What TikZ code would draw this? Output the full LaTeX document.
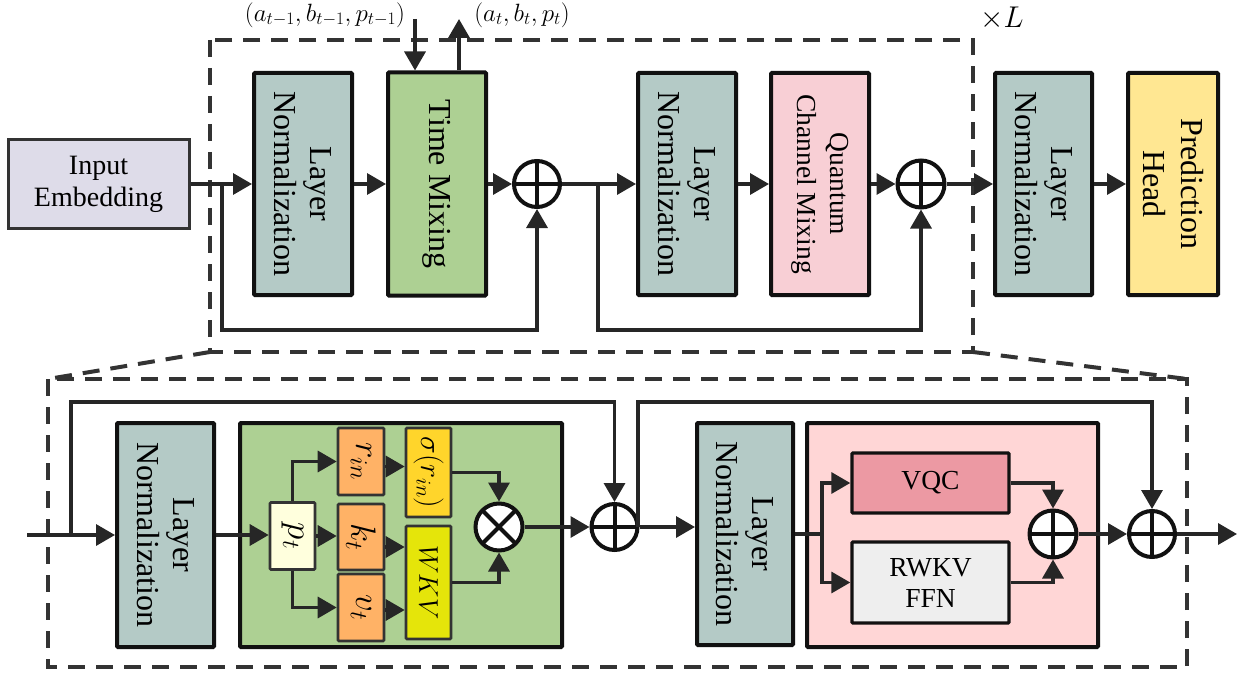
\RequirePackage{fix-cm}
\documentclass[tikz,border=0pt]{standalone}
\usepackage[no-math]{fontspec}
\setmainfont{Liberation Serif}
\usetikzlibrary{arrows.meta,calc}
\definecolor{lncol}{HTML}{B4CAC6}
\definecolor{tmcol}{HTML}{ADD093}
\definecolor{qcol}{HTML}{F8CFD5}
\definecolor{phcol}{HTML}{FFE792}
\definecolor{iecol}{HTML}{DEDCE9}
\definecolor{ptcol}{HTML}{FFFFDD}
\definecolor{orcol}{HTML}{FFB266}
\definecolor{sigcol}{HTML}{FFD52B}
\definecolor{wkvcol}{HTML}{E5E50A}
\definecolor{pinkbg}{HTML}{FFD6D6}
\definecolor{vqccol}{HTML}{EC99A3}
\definecolor{rwkvcol}{HTML}{EEEEEE}
\definecolor{linecol}{HTML}{262626}
\definecolor{dashcol}{HTML}{333333}
\definecolor{bordcol}{HTML}{111111}
\begin{document}
\begin{tikzpicture}[x=1pt,y=-1pt,
  bigbox/.style={draw=bordcol, line width=4pt, inner sep=0pt, rounded corners=1pt},
  lnbox/.style={bigbox, fill=lncol, minimum width=98pt, minimum height=222pt},
  smallbox/.style={draw=dashcol, line width=2.6pt, inner sep=0pt, rounded corners=1pt},
  conn/.style={draw=linecol, line width=3.4pt},
  arr/.style={conn, -{Triangle[length=19pt,width=21pt]}},
  opl/.style={circle, draw=bordcol, line width=4pt, fill=white, minimum size=46pt, inner sep=0pt},
  oplus/.style={opl, path picture={\draw[line width=4pt, bordcol]
      (path picture bounding box.north) -- (path picture bounding box.south)
      (path picture bounding box.west) -- (path picture bounding box.east);}},
  otimes/.style={opl, path picture={\draw[line width=4pt, bordcol]
      (path picture bounding box.north east) -- (path picture bounding box.south west)
      (path picture bounding box.north west) -- (path picture bounding box.south east);}},
  dbox/.style={draw=dashcol, line width=4pt, dash pattern=on 17pt off 11pt},
  rtxt/.style={rotate=-90, align=center, inner sep=0pt, font=\fontsize{32}{36}\selectfont},
  mtxt/.style={rotate=-90, inner sep=0pt, font=\fontsize{35}{38}\selectfont}
]
\useasboundingbox (0,0) rectangle (1242,674);

% dashed frames
\draw[dbox] (210,40) rectangle (973,352);
\draw[dbox] (48,379) rectangle (1187,667);
\draw[dbox] (210,352) -- (48,379);
\draw[dbox] (973,352) -- (1187,379);
\node[anchor=base, inner sep=0pt, font=\fontsize{30}{34}\selectfont] (xl) at (1002,28) {$\times L$};

% ---------- top row ----------
\node[draw=dashcol, line width=3pt, fill=iecol, minimum width=181pt, minimum height=89pt,
      align=center, inner sep=0pt, font=\fontsize{28}{32}\selectfont] (ie) at (98.5,184) {Input\\Embedding};
\node[lnbox] (ln1) at (303,184) {};
\node[rtxt] at (ln1.center) {Layer\\Normalization};
\node[bigbox, fill=tmcol, minimum width=98pt, minimum height=223pt] (tm) at (437,184) {};
\node[rtxt] at (tm.center) {Time Mixing};
\node[oplus] (p1) at (537,184) {};
\node[lnbox] (ln2) at (687,184) {};
\node[rtxt] at (ln2.center) {Layer\\Normalization};
\node[bigbox, fill=qcol, minimum width=98pt, minimum height=222pt] (qcm) at (820,184) {};
\node[rtxt, font=\fontsize{27.5}{33}\selectfont] at (qcm.center) {Quantum\\Channel Mixing};
\node[oplus, minimum size=47pt] (p2) at (921,184) {};
\node[lnbox, minimum width=97pt] (ln3) at (1043.5,184) {};
\node[rtxt] at (ln3.center) {Layer\\Normalization};
\node[bigbox, fill=phcol, minimum width=90pt, minimum height=222pt] (ph) at (1173,184) {};
\node[rtxt, font=\fontsize{32}{38}\selectfont] at (ph.center) {Prediction\\Head};

\coordinate (b1) at (222,184);
\coordinate (c1) at (537,330);
\coordinate (b2) at (598,184);
\coordinate (c2) at (921,330);
\draw[arr] (ie.east) -- (ln1.west);
\draw[arr] (ln1.east) -- (tm.west);
\draw[arr] (tm.east) -- (p1.west);
\draw[arr] (p1.east) -- (ln2.west);
\draw[arr] (ln2.east) -- (qcm.west);
\draw[arr] (qcm.east) -- (p2.west);
\draw[arr] (p2.east) -- (ln3.west);
\draw[arr] (ln3.east) -- (ph.west);
\draw[arr] (b1) |- (c1) -- (p1.south);
\draw[arr] (b2) |- (c2) -- (p2.south);

\node[font=\fontsize{25}{28}\selectfont] (lin) at (325,15) {$(a_{t-1},b_{t-1},p_{t-1})$};
\node[font=\fontsize{25}{28}\selectfont] (lout) at (522,15) {$(a_t,b_t,p_t)$};
\coordinate (din) at (415,19);
\coordinate (uout) at (459,19);
\draw[arr] (din) -- (din |- tm.north);
\draw[arr] (uout |- tm.north) -- (uout);

% ---------- bottom detail ----------
\node[lnbox, minimum width=97pt, minimum height=224pt] (lnb1) at (165.5,535) {};
\node[rtxt] at (lnb1.center) {Layer\\Normalization};
\node[bigbox, fill=tmcol, minimum width=322pt, minimum height=224pt] (green) at (401,535) {};
\node[smallbox, fill=ptcol, minimum width=45pt, minimum height=67pt] (pt) at (292.5,536) {};
\node[mtxt] at (pt.center) {$p_t$};
\node[smallbox, fill=orcol, minimum width=46pt, minimum height=67pt] (rin) at (361,461.5) {};
\node[mtxt] at (rin.center) {$r_{in}$};
\node[smallbox, fill=orcol, minimum width=46pt, minimum height=66pt] (kt) at (361,537) {};
\node[mtxt] at (kt.center) {$k_t$};
\node[smallbox, fill=orcol, minimum width=46pt, minimum height=67pt] (vt) at (361,607.5) {};
\node[mtxt] at (vt.center) {$v_t$};
\node[smallbox, fill=sigcol, minimum width=45pt, minimum height=89pt] (sig) at (428.5,472.5) {};
\node[mtxt, font=\fontsize{30}{34}\selectfont] at (sig.center) {$\sigma(r_{in})$};
\node[smallbox, fill=wkvcol, minimum width=45pt, minimum height=113pt] (wkv) at (428.5,582.5) {};
\node[mtxt, font=\fontsize{27}{30}\selectfont] at (wkv.center) {$WKV$};
\node[otimes, minimum size=47pt] (ot) at (499,527) {};
\node[oplus] (p3) at (614.5,527) {};

\node[lnbox, minimum width=96pt, minimum height=222pt] (lnb2) at (745,534) {};
\node[rtxt] at (lnb2.center) {Layer\\Normalization};
\node[bigbox, fill=pinkbg, minimum width=291pt, minimum height=224pt] (pink) at (952.5,535) {};
\node[draw=bordcol, line width=3.4pt, rounded corners=1pt, fill=vqccol, minimum width=157pt, minimum height=60pt,
      inner sep=0pt, font=\fontsize{27.5}{31}\selectfont] (vqc) at (930.5,483) {VQC};
\node[draw=bordcol, line width=3.4pt, rounded corners=1pt, fill=rwkvcol, minimum width=157pt, minimum height=81pt,
      inner sep=0pt, align=center, font=\fontsize{27.5}{31}\selectfont] (rwkv) at (930.5,582.5) {RWKV\\FFN};
\node[oplus, minimum size=47pt] (p4) at (1053,534) {};
\node[oplus] (p5) at (1152,534) {};

\coordinate (sb) at (27,535);
\coordinate (b3) at (71,535);
\coordinate (t3) at (614.5,402);
\coordinate (b4) at (638,527);
\coordinate (t4) at (1152,402);
\coordinate (b5) at (822,534);
\coordinate (se) at (1237,534);
\coordinate (re) at ($(rin.east)+(0,5)$);
\coordinate (ke) at ($(kt.east)+(0,10)$);
\coordinate (ve) at ($(vt.east)+(0,2.5)$);

\draw[arr] (sb) -- (lnb1.west);
\draw[arr] (b3) |- (t3) -- (p3.north);
\draw[arr] (lnb1.east) -- (lnb1.east -| pt.west);
\draw[arr] (pt.north) |- (rin.west);
\draw[arr] (pt.south) |- (vt.west);
\draw[arr] (pt.east) -- (pt.east -| kt.west);
\draw[arr] (re) -- (re -| sig.west);
\draw[arr] (ke) -- (ke -| wkv.west);
\draw[arr] (ve) -- (ve -| wkv.west);
\draw[arr] (sig.east) -| (ot.north);
\draw[arr] (wkv.east) -| (ot.south);
\draw[arr] (ot.east) -- (p3.west);
\draw[arr] (p3.east) -- (p3.east -| lnb2.west);
\draw[arr] (b4) |- (t4) -- (p5.north);
\draw[conn] (lnb2.east) -- (b5);
\draw[arr] (b5) |- (vqc.west);
\draw[arr] (b5) |- (rwkv.west);
\draw[arr] (vqc.east) -| (p4.north);
\draw[arr] (rwkv.east) -| (p4.south);
\draw[arr] (p4.east) -- (p5.west);
\draw[arr] (p5.east) -- (se);
\end{tikzpicture}
\end{document}
